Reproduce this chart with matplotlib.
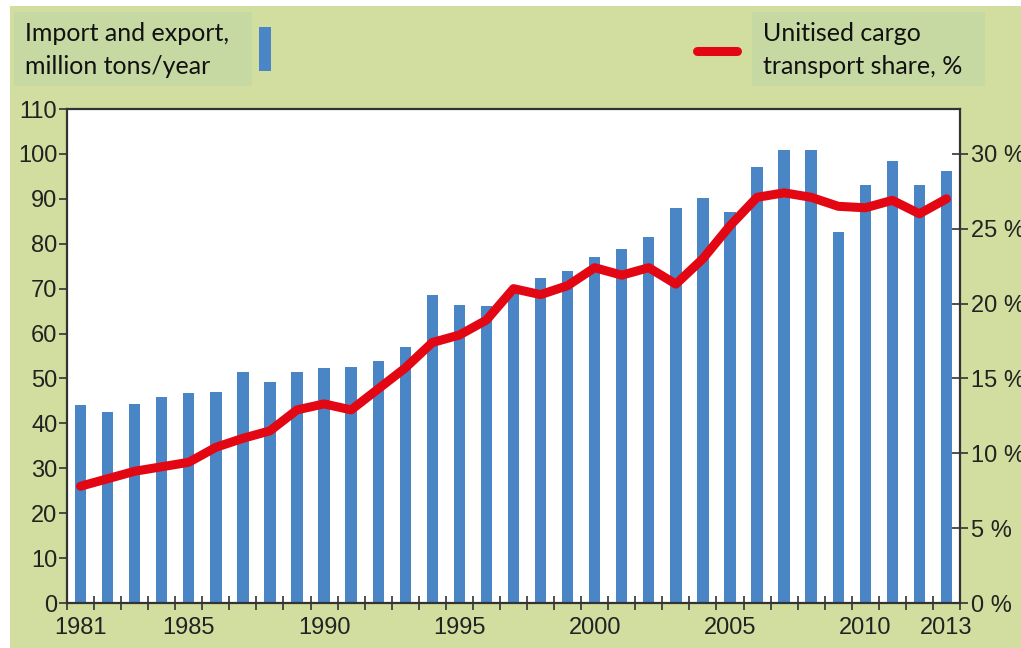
import matplotlib.pyplot as plt
from matplotlib.patches import Rectangle
from matplotlib.lines import Line2D
from matplotlib.ticker import FixedLocator, FuncFormatter

plt.rcParams['font.family'] = ['Liberation Sans', 'DejaVu Sans']

# data
years = list(range(1981, 2014))
tons = [44.2, 42.6, 44.4, 45.9, 46.8, 46.9, 51.5, 49.2, 51.4, 52.4,
        52.5, 53.9, 57.0, 68.6, 66.4, 66.1, 69.5, 72.3, 74.0, 77.1,
        78.8, 81.6, 87.9, 90.2, 87.1, 97.0, 100.9, 100.9, 82.7, 93.1,
        98.5, 93.1, 96.3]
share = [7.8, 8.3, 8.8, 9.1, 9.4, 10.4, 11.0, 11.5, 12.9, 13.3,
         12.9, 14.3, 15.7, 17.4, 17.9, 18.9, 21.0, 20.6, 21.2, 22.4,
         21.9, 22.4, 21.3, 23.0, 25.2, 27.1, 27.4, 27.1, 26.5, 26.4,
         26.9, 26.0, 27.0]
labelled_years = [1981, 1985, 1990, 1995, 2000, 2005, 2010, 2013]

W, H = 1021, 648
green = '#d1de9f'
box_green = '#c6d9a3'
blue = '#4a86c6'
red = '#e30613'
dark = '#333333'


def fx(px):
    return px / W


def fy(py):
    return 1 - py / H


fig = plt.figure(figsize=(W / 100, H / 100), dpi=100, facecolor='white')

# green panel behind everything
fig.patches.append(Rectangle((fx(10), 0), 1, fy(6), transform=fig.transFigure,
                             facecolor=green, edgecolor='none', zorder=-10))

ax = fig.add_axes([fx(67), fy(603), fx(960) - fx(67), fy(109) - fy(603)])
ax.set_facecolor('white')

x = list(range(len(years)))
ax.bar(x, tons, width=0.42, color=blue, zorder=2)
ax.set_xlim(-0.5, len(years) - 0.5)
ax.set_ylim(0, 110)
ax.set_yticks(range(0, 111, 10))

# ticks between categories, labels under the bars
ax.xaxis.set_major_locator(FixedLocator([i - 0.5 for i in range(len(years) + 1)]))
ax.xaxis.set_major_formatter(FuncFormatter(lambda v, p: ''))
ax.xaxis.set_minor_locator(FixedLocator([years.index(y) for y in labelled_years]))
ax.xaxis.set_minor_formatter(FuncFormatter(lambda v, p: str(years[int(round(v))])))
ax.tick_params(axis='x', which='major', direction='inout', length=10, width=1.2, color=dark)
ax.tick_params(axis='x', which='minor', length=0, labelsize=17, pad=10, labelcolor='#222222')
ax.tick_params(axis='y', direction='out', length=6, width=1.2, color=dark,
               labelsize=17, pad=1, labelcolor='#222222')

for s in ax.spines.values():
    s.set_color(dark)
    s.set_linewidth(1.6)

ax2 = ax.twinx()
ax2.plot(x, share, color=red, lw=6.5, solid_joinstyle='round',
         solid_capstyle='round', zorder=3)
ax2.set_ylim(0, 33)
ax2.set_yticks(range(0, 31, 5))
ax2.yaxis.set_major_formatter(FuncFormatter(lambda v, p: f'{int(v)} %'))
ax2.tick_params(axis='y', direction='inout', length=12, width=1.2, color=dark,
                labelsize=17, pad=2, labelcolor='#222222')
for s in ax2.spines.values():
    s.set_visible(False)

# legend-like headers
fig.patches.append(Rectangle((fx(14), fy(86)), fx(252) - fx(14), fy(12) - fy(86),
                             transform=fig.transFigure, facecolor=box_green,
                             edgecolor='none'))
fig.patches.append(Rectangle((fx(752), fy(86)), fx(985) - fx(752), fy(12) - fy(86),
                             transform=fig.transFigure, facecolor=box_green,
                             edgecolor='none'))
fig.patches.append(Rectangle((fx(259), fy(71)), fx(271) - fx(259), fy(27) - fy(71),
                             transform=fig.transFigure, facecolor=blue,
                             edgecolor='none'))
fig.lines.append(Line2D([fx(697), fx(737)], [fy(51), fy(51)], transform=fig.transFigure,
                        color=red, lw=6.5, solid_capstyle='round'))

hdr = dict(fontsize=18, family=['Lato', 'DejaVu Sans'], color='#111111',
           va='center', ha='left', linespacing=1.55)
fig.text(fx(25), fy(50), 'Import and export,\nmillion tons/year', **hdr)
fig.text(fx(763), fy(50), 'Unitised cargo\ntransport share, %', **hdr)

fig.savefig('out.png', dpi=100, facecolor=fig.get_facecolor())
